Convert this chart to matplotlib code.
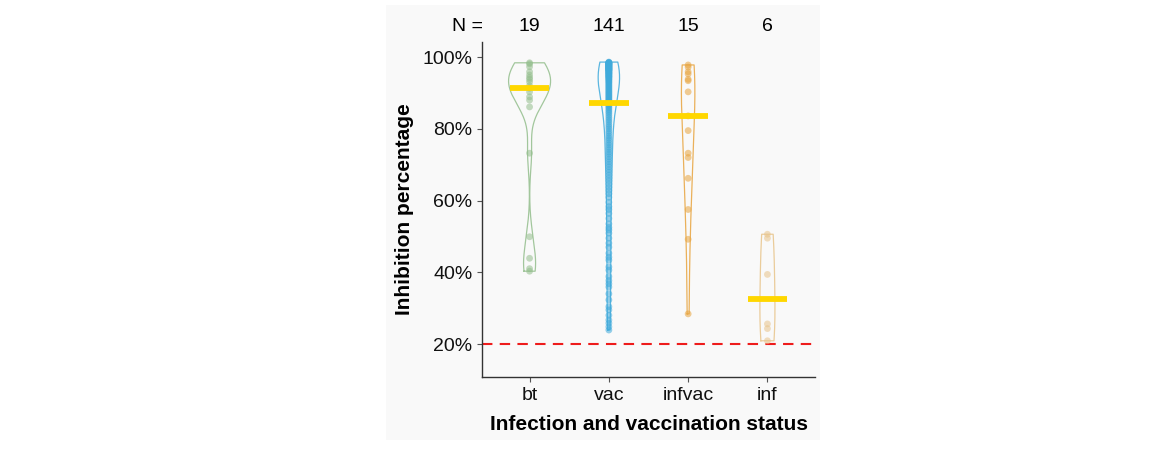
import numpy as np
import matplotlib
matplotlib.use("Agg")
import matplotlib.pyplot as plt

plt.rcParams['font.family'] = ['Liberation Sans', 'DejaVu Sans']

# groups and their inhibition values (%)
groups = ["bt", "vac", "infvac", "inf"]
colors = ["#93BE8C", "#3FAADB", "#E8A43E", "#E8C48A"]

bt = [98.4, 98.1, 97.3, 95.9, 95.0, 94.3, 93.8, 93.1, 92.0, 91.3,
      90.3, 88.9, 88.0, 86.1, 73.2, 49.9, 43.9, 41.0, 40.3]

vac = [98.6, 98.5, 98.4, 98.3, 98.2, 98.1, 98.0, 97.9, 97.8, 97.7,
       97.6, 97.5, 97.4, 97.3, 97.2, 97.1, 97.0, 96.9, 96.8, 96.7,
       96.6, 96.5, 96.4, 96.3, 96.2, 96.0, 95.8, 95.6, 95.5, 95.3,
       95.1, 94.9, 94.7, 94.5, 94.3, 94.1, 93.9, 93.7, 93.5, 93.2,
       93.0, 92.7, 92.4, 92.1, 91.8, 91.5, 91.2, 90.9, 90.6, 90.3,
       90.0, 89.7, 89.4, 89.1, 88.8, 88.5, 88.2, 87.9, 87.7, 87.5,
       98.4, 98.2, 97.9, 97.5, 97.0, 96.5, 96.1, 95.7, 95.2, 94.6,
       87.3,
       87.0, 86.6, 86.2, 85.8, 85.3, 84.8, 84.3, 83.7, 83.1, 82.5,
       81.9, 81.2, 80.6, 80.0, 79.3, 78.7, 78.0, 77.4, 76.8, 76.1,
       75.5, 74.8, 74.2, 73.5, 72.9, 72.2, 71.5, 70.8, 70.1, 69.4,
       68.6, 67.9, 67.1, 66.3, 65.5, 64.6, 63.7, 62.8, 61.9, 60.9,
       59.5, 58.3, 57.5, 56.4, 55.0, 53.5, 52.5, 51.8, 50.9, 49.5,
       48.1, 47.0, 45.3, 44.2, 43.4, 41.5, 40.6, 38.8, 37.7, 36.8,
       35.9, 34.0, 32.3, 30.4, 29.5, 28.0, 26.7, 25.8, 24.8, 23.9]

infvac = [97.8, 97.2, 95.9, 95.3, 93.8, 93.4, 90.3, 83.6,
          79.5, 73.2, 72.0, 66.2, 57.5, 49.2, 28.4]

inf = [50.6, 49.5, 39.4, 25.6, 24.3, 20.9]

data = [bt, vac, infvac, inf]
half_widths = [0.265, 0.135, 0.085, 0.095]
bw_adjust = [0.85, 0.8, 1.2, 1.4]
threshold = 20


def kde_trimmed(values, adjust=1.0, n=256):
    v = np.asarray(values, dtype=float)
    sd = v.std(ddof=1)
    iqr = np.subtract(*np.percentile(v, [75, 25]))
    lo = min(sd, iqr / 1.34) if iqr > 0 else sd
    bw = 0.9 * lo * len(v) ** -0.2 * adjust
    grid = np.linspace(v.min(), v.max(), n)
    dens = np.exp(-0.5 * ((grid[:, None] - v[None, :]) / bw) ** 2).sum(axis=1)
    return grid, dens / dens.max()


fig = plt.figure(figsize=(11.59, 4.54), dpi=100)
bg = plt.Rectangle((386 / 1159, 1 - 440 / 454), 434 / 1159, 435 / 454,
                   transform=fig.transFigure, facecolor="#F9F9F9",
                   edgecolor="none", zorder=-10)
fig.add_artist(bg)
ax = fig.add_axes([482 / 1159, 1 - 377 / 454, 333 / 1159, 335 / 454])
ax.set_zorder(1)
ax.set_facecolor("#F9F9F9")

for i, (vals, col, hw, adj) in enumerate(zip(data, colors, half_widths, bw_adjust)):
    x0 = i + 1
    grid, dens = kde_trimmed(vals, adj)
    xs = np.concatenate([x0 - hw * dens, (x0 + hw * dens)[::-1], [x0 - hw * dens[0]]])
    ys = np.concatenate([grid, grid[::-1], [grid[0]]])
    ax.plot(xs, ys, color=col, lw=0.9, alpha=0.85, zorder=2)
    ax.scatter(np.full(len(vals), x0), vals, s=24, color=col, alpha=0.55,
               edgecolors="none", zorder=3)
    med = np.median(vals)
    ax.hlines(med, x0 - 0.25, x0 + 0.25, color="#FFD700", lw=4.2, zorder=4)
    ax.text(x0, 108.4, str(len(vals)), ha="center", va="center", fontsize=14,
            clip_on=False)

ax.text(0.22, 108.4, "N =", ha="center", va="center", fontsize=14, clip_on=False)

ax.axhline(threshold, color="#EE1C1C", lw=1.5, ls=(0, (5, 3.5)), zorder=1)

ax.set_xlim(0.4, 4.6)
ax.set_ylim(10.8, 104.2)
ax.set_xticks(range(1, len(groups) + 1))
ax.set_xticklabels(groups)
ax.set_yticks([20, 40, 60, 80, 100])
ax.set_yticklabels([f"{t}%" for t in [20, 40, 60, 80, 100]])
ax.tick_params(labelsize=14, length=3.5, width=0.8, color="#555555",
               labelcolor="#111111")
for side in ["top", "right"]:
    ax.spines[side].set_visible(False)
for side in ["left", "bottom"]:
    ax.spines[side].set_color("#333333")
    ax.spines[side].set_linewidth(1.0)

ax.set_xlabel("Infection and vaccination status", fontsize=15, fontweight="bold",
              labelpad=8)
ax.set_ylabel("Inhibition percentage", fontsize=15, fontweight="bold", labelpad=6)

fig.savefig("out.png", dpi=100)
